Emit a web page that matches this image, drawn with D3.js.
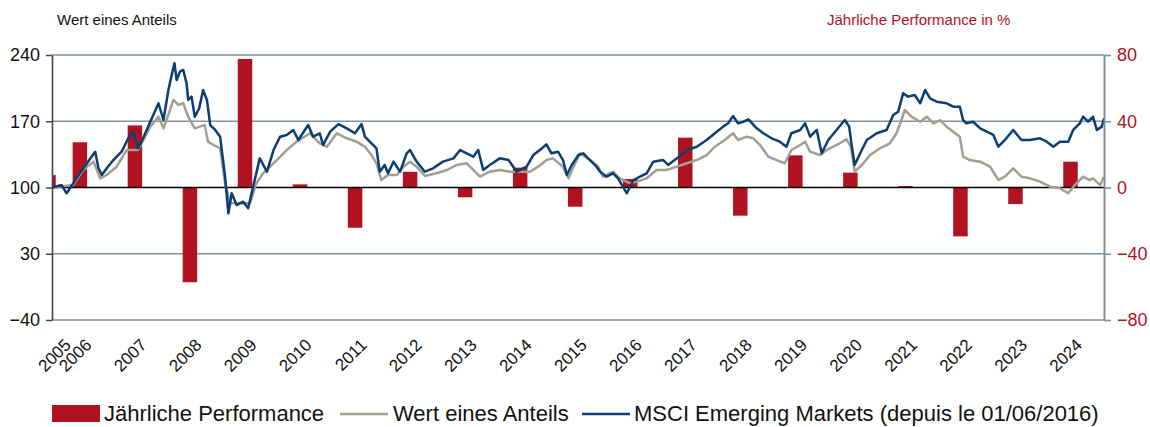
<!DOCTYPE html>
<html>
<head>
<meta charset="utf-8">
<script src="https://cdn.jsdelivr.net/npm/d3@7/dist/d3.min.js"></script>
<style>
	body { margin: 0; background: #fff; }
	svg { font-family: 'Liberation Sans', Arial, sans-serif; display: block; }
</style>
</head>
<body>
<div id="chart"></div>
<script>
// ---- data ----
// dates are decimal years
const yearLabels = ['2005', '2006', '2007', '2008', '2009', '2010', '2011', '2012', '2013', '2014',
	'2015', '2016', '2017', '2018', '2019', '2020', '2021', '2022', '2023', '2024']
const labelDates = [2005.625, 2006, 2007, 2008, 2009, 2010, 2011, 2012, 2013, 2014,
	2015, 2016, 2017, 2018, 2019, 2020, 2021, 2022, 2023, 2024]

// yearly performance in %, bars start at perfDates
const perfDates = [2005.43, 2006, 2007, 2008, 2009, 2010, 2011, 2012, 2013, 2014,
	2015, 2016, 2017, 2018, 2019, 2020, 2021, 2022, 2023, 2024]
const perfValues = [7.5, 27.3, 37.5, -57.2, 77.6, 1.9, -24.3, 9.5, -5.9, 12.0,
	-11.6, 5.1, 30.1, -17.0, 19.4, 9.0, 0.9, -29.5, -10.0, 15.6]

// Wert eines Anteils
const fundDates = [2005.63, 2006.01, 2006.19, 2006.38, 2006.50, 2006.62, 2006.80, 2006.98, 2007.19, 2007.41,
	2007.56, 2007.65, 2007.77, 2007.83, 2007.92, 2008.01, 2008.10, 2008.22, 2008.31, 2008.40,
	2008.46, 2008.56, 2008.68, 2008.77, 2008.86, 2009.04, 2009.22, 2009.34, 2009.46, 2009.59,
	2009.71, 2009.89, 2010.07, 2010.31, 2010.49, 2010.62, 2010.80, 2010.98, 2011.16, 2011.31,
	2011.43, 2011.52, 2011.61, 2011.73, 2011.89, 2012.01, 2012.13, 2012.25, 2012.40, 2012.61,
	2012.80, 2012.98, 2013.16, 2013.28, 2013.40, 2013.58, 2013.76, 2013.95, 2014.13, 2014.31,
	2014.46, 2014.61, 2014.73, 2014.91, 2015.01, 2015.10, 2015.22, 2015.40, 2015.55, 2015.64,
	2015.82, 2015.94, 2016.13, 2016.25, 2016.43, 2016.61, 2016.79, 2016.98, 2017.16, 2017.34,
	2017.52, 2017.67, 2017.85, 2018.00, 2018.09, 2018.25, 2018.37, 2018.49, 2018.64, 2018.79,
	2018.94, 2019.06, 2019.22, 2019.31, 2019.40, 2019.58, 2019.70, 2019.82, 2019.94, 2020.06,
	2020.14, 2020.21, 2020.34, 2020.49, 2020.67, 2020.85, 2020.97, 2021.06, 2021.12, 2021.24,
	2021.40, 2021.52, 2021.64, 2021.76, 2021.88, 2022.00, 2022.12, 2022.18, 2022.30, 2022.49,
	2022.67, 2022.82, 2022.94, 2023.09, 2023.24, 2023.39, 2023.58, 2023.76, 2023.94, 2024.09,
	2024.21, 2024.36, 2024.48, 2024.54, 2024.67, 2024.74]
const fundValues = [100, 102.6, 118.5, 127.3, 109.7, 113.2, 122, 139.6, 139.6, 164.3,
	174.8, 162.5, 181.9, 192.5, 187.2, 189, 174.8, 162.5, 164.3, 166,
	148.4, 144.9, 141.4, 104.4, 83.3, 83.3, 83.3, 104.4, 115, 122,
	129, 139.6, 148.4, 157.3, 146.7, 143.1, 157.3, 152, 148.4, 143.1,
	134.3, 125.6, 107.9, 113.2, 113.2, 122, 127.3, 122, 112.2, 115,
	118.5, 123.8, 125.6, 118.5, 111.4, 116.7, 118.5, 116.7, 116.7, 116.7,
	122, 129, 130.8, 122, 109.7, 122, 136.1, 129, 122, 111.4,
	116.7, 109.7, 104.4, 106.2, 109.7, 118.5, 118.5, 122, 125.6, 129,
	134.3, 143.1, 150.2, 157.3, 150.2, 153.7, 152, 144.9, 132.6, 129,
	125.6, 139.6, 144.9, 148.4, 137.8, 134.3, 139.6, 143.1, 146.7, 150.9,
	143.1, 116.7, 123.8, 134.3, 141.4, 146.7, 157.3, 171.3, 181.9, 174.8,
	169.5, 174.8, 167.8, 171.3, 164.3, 159, 153.7, 132.6, 129, 127.3,
	122, 107.9, 111.4, 120.3, 111.4, 109.7, 106.2, 100.9, 99.1, 93.9,
	102.6, 111.4, 107.9, 109.7, 102.6, 111.4]

// MSCI Emerging Markets
const msciDates = [2005.63, 2005.80, 2005.89, 2006.01, 2006.13, 2006.26, 2006.41, 2006.47, 2006.53, 2006.62,
	2006.74, 2006.89, 2007.01, 2007.10, 2007.19, 2007.28, 2007.41, 2007.56, 2007.65, 2007.74,
	2007.80, 2007.85, 2007.89, 2007.95, 2008.01, 2008.07, 2008.10, 2008.16, 2008.22, 2008.30,
	2008.37, 2008.44, 2008.50, 2008.59, 2008.68, 2008.77, 2008.83, 2008.89, 2008.98, 2009.10,
	2009.19, 2009.28, 2009.40, 2009.53, 2009.65, 2009.77, 2009.89, 2010.01, 2010.10, 2010.28,
	2010.37, 2010.49, 2010.55, 2010.68, 2010.83, 2010.98, 2011.13, 2011.25, 2011.31, 2011.43,
	2011.52, 2011.58, 2011.67, 2011.73, 2011.83, 2011.95, 2012.07, 2012.13, 2012.25, 2012.40,
	2012.55, 2012.73, 2012.92, 2013.04, 2013.16, 2013.28, 2013.37, 2013.46, 2013.58, 2013.76,
	2013.92, 2014.07, 2014.25, 2014.37, 2014.49, 2014.61, 2014.70, 2014.82, 2014.91, 2014.98,
	2015.07, 2015.19, 2015.28, 2015.40, 2015.52, 2015.58, 2015.70, 2015.82, 2015.91, 2016.07,
	2016.19, 2016.31, 2016.43, 2016.55, 2016.73, 2016.82, 2016.98, 2017.16, 2017.34, 2017.52,
	2017.67, 2017.82, 2017.91, 2018.00, 2018.09, 2018.19, 2018.28, 2018.43, 2018.55, 2018.70,
	2018.85, 2018.97, 2019.06, 2019.22, 2019.31, 2019.40, 2019.52, 2019.61, 2019.73, 2019.88,
	2020.03, 2020.11, 2020.15, 2020.21, 2020.31, 2020.43, 2020.61, 2020.79, 2020.91, 2021.00,
	2021.09, 2021.18, 2021.30, 2021.40, 2021.49, 2021.58, 2021.70, 2021.88, 2022.00, 2022.12,
	2022.18, 2022.24, 2022.36, 2022.49, 2022.61, 2022.73, 2022.82, 2022.94, 2023.09, 2023.24,
	2023.39, 2023.58, 2023.70, 2023.82, 2023.94, 2024.09, 2024.18, 2024.30, 2024.36, 2024.45,
	2024.54, 2024.61, 2024.70, 2024.74]
const msciValues = [100, 102.6, 93.9, 104.4, 115, 125.6, 137.8, 120.3, 113.2, 120.3,
	129, 137.8, 152, 159, 141.4, 152, 169.5, 189, 171.3, 203,
	218.9, 231.2, 213.6, 222.4, 224.2, 210, 192.5, 196, 174.8, 183.7,
	203, 192.5, 166, 160.8, 153.7, 111.4, 72.7, 93.9, 81.5, 85,
	78, 100.9, 130.8, 116.7, 139.6, 153.7, 155.5, 160.8, 150.2, 166,
	153.7, 157.3, 144.9, 159, 167, 162.5, 157.3, 167, 153.7, 146.7,
	141.4, 116.7, 123.8, 115, 127.3, 116.7, 136.1, 139.6, 127.3, 116.7,
	120.3, 127.3, 130.8, 139.6, 136.1, 132.6, 139.6, 118.5, 123.8, 130.8,
	129, 116.7, 122, 134.3, 139.6, 145.6, 136.1, 137.8, 129, 113.2,
	123.8, 134.3, 136.1, 129, 122, 117, 111.4, 115, 109.7, 93.9,
	107.9, 111.4, 115, 127.3, 129, 123.8, 130.8, 139.6, 143.1, 150.2,
	157.3, 164.3, 167.8, 175.5, 167.8, 169.5, 172, 162.5, 157.3, 152,
	148.4, 143.1, 157.3, 160.8, 167.8, 153.7, 160.8, 136.1, 150.2, 160.8,
	171.3, 164.3, 146.7, 123.8, 136.1, 150.2, 157.3, 160.8, 176.6, 180.1,
	199.5, 196, 197.7, 189, 203, 194.2, 190.7, 189, 185.4, 185.4,
	171.3, 167.8, 169.5, 162.5, 159, 155.5, 143.1, 150.2, 160.8, 150.2,
	150.2, 152, 148.4, 143.1, 148.4, 148.4, 160.8, 167.8, 174.8, 169.5,
	174.8, 160.8, 164.3, 173]

const leftTicks = [-40, 30, 100, 170, 240]
const rightTicks = [-80, -40, 0, 40, 80]

// ---- layout ----
const width = 1150
const height = 427
const LEFT = 52
const RIGHT = 1104
const TOP = 55
const BOTTOM = 320
const BAR_SPAN = 0.263 // bar width, in years
const LABEL_SHIFT = 20 // year labels sit a bit right of the year start

const RED = '#b0121f'
const BLUE = '#0c3e71'
const GRAY = '#a19e94'
const GRID = '#8391a0'

const svg = d3.select('#chart').append('svg').attr('width', width).attr('height', height)

const xScale = d3.scaleLinear().domain([2005.625, 2024.74]).range([LEFT, RIGHT])
const yLeft = d3.scaleLinear().domain([-40, 240]).range([BOTTOM, TOP])
const yRight = d3.scaleLinear().domain([-80, 80]).range([BOTTOM, TOP])

svg.append('defs').append('clipPath').attr('id', 'plot-clip')
	.append('rect')
	.attr('x', LEFT).attr('y', 0).attr('width', RIGHT - LEFT).attr('height', height)

// titles
svg.append('text').attr('x', 57).attr('y', 25).attr('font-size', 15).attr('fill', '#111')
	.text('Wert eines Anteils')
svg.append('text').attr('x', 827).attr('y', 25).attr('font-size', 15).attr('fill', RED)
	.text('Jährliche Performance in %')

// gridlines
svg.append('g').attr('id', 'grid')
	.selectAll('line')
	.data(leftTicks.filter(d => d !== 100))
	.join('line')
	.attr('x1', LEFT).attr('x2', RIGHT)
	.attr('y1', d => yLeft(d)).attr('y2', d => yLeft(d))
	.attr('stroke', GRID).attr('stroke-width', 1.6)

// bars
svg.append('g').attr('id', 'bars').attr('clip-path', 'url(#plot-clip)')
	.selectAll('rect')
	.data(perfValues)
	.join('rect')
	.attr('x', (d, i) => xScale(perfDates[i]))
	.attr('width', (d, i) => xScale(perfDates[i] + BAR_SPAN) - xScale(perfDates[i]))
	.attr('y', d => yRight(Math.max(0, d)))
	.attr('height', d => Math.abs(yRight(d) - yRight(0)))
	.attr('fill', RED)

// zero line
svg.append('line')
	.attr('x1', LEFT).attr('x2', RIGHT)
	.attr('y1', yLeft(100)).attr('y2', yLeft(100))
	.attr('stroke', '#000').attr('stroke-width', 1.5)

// lines
const line = d3.line().x(d => xScale(d[0])).y(d => yLeft(d[1]))
svg.append('path')
	.datum(d3.zip(fundDates, fundValues))
	.attr('d', line)
	.attr('fill', 'none').attr('stroke', GRAY).attr('stroke-width', 2.5).attr('stroke-linejoin', 'round')
svg.append('path')
	.datum(d3.zip(msciDates, msciValues))
	.attr('d', line)
	.attr('fill', 'none').attr('stroke', BLUE).attr('stroke-width', 2.5).attr('stroke-linejoin', 'round')

// left axis
const leftAxis = svg.append('g')
	.attr('transform', `translate(${LEFT},0)`)
	.call(d3.axisLeft(yLeft).tickValues(leftTicks).tickSize(6).tickPadding(6).tickSizeOuter(0))
leftAxis.select('.domain').attr('stroke', '#444').attr('stroke-width', 1.6)
leftAxis.selectAll('.tick line').attr('stroke', '#444').attr('stroke-width', 1.5)
leftAxis.selectAll('.tick text').attr('font-size', 18).attr('fill', '#111')
	.attr('font-family', "'Liberation Sans', Arial, sans-serif")

// right axis
const rightAxis = svg.append('g')
	.attr('transform', `translate(${RIGHT},0)`)
	.call(d3.axisRight(yRight).tickValues(rightTicks).tickSize(7).tickPadding(6).tickSizeOuter(0))
rightAxis.select('.domain').attr('stroke', GRID).attr('stroke-width', 2)
rightAxis.selectAll('.tick line').attr('stroke', GRID).attr('stroke-width', 1.6)
rightAxis.selectAll('.tick text').attr('font-size', 18).attr('fill', RED)
	.attr('font-family', "'Liberation Sans', Arial, sans-serif")

// x axis labels, rotated
svg.append('g').attr('id', 'x-labels')
	.selectAll('text')
	.data(yearLabels)
	.join('text')
	.attr('transform', (d, i) => `translate(${xScale(labelDates[i]) + LABEL_SHIFT},346) rotate(-45)`)
	.attr('text-anchor', 'end')
	.attr('font-size', 17)
	.attr('fill', '#111')
	.text(d => d)

// legend
const legend = svg.append('g').attr('id', 'legend').attr('font-size', 22).attr('fill', '#111')
legend.append('rect').attr('x', 52).attr('y', 405).attr('width', 48).attr('height', 17).attr('fill', RED)
legend.append('text').attr('x', 104).attr('y', 421).text('Jährliche Performance')
legend.append('line').attr('x1', 340).attr('x2', 388).attr('y1', 414).attr('y2', 414)
	.attr('stroke', GRAY).attr('stroke-width', 2.5)
legend.append('text').attr('x', 393).attr('y', 421).text('Wert eines Anteils')
legend.append('line').attr('x1', 582).attr('x2', 630).attr('y1', 414).attr('y2', 414)
	.attr('stroke', BLUE).attr('stroke-width', 2.5)
legend.append('text').attr('x', 634).attr('y', 421).text('MSCI Emerging Markets (depuis le 01/06/2016)')
</script>
</body>
</html>
